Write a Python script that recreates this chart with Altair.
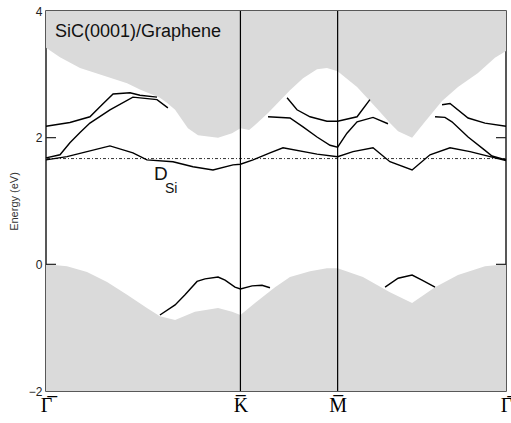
import altair as alt
import pandas as pd

# k-path positions of high-symmetry points (Gamma, K, M, Gamma)
sym_k = [0, 1, 1.5, 2.366]
sym_labels = ["\u0393\u0305", "K\u0305", "M\u0305", "\u0393\u0305"]

# projected bulk conduction band (lower edge of the upper gray region)
cb_k = [0.000, 0.072, 0.175, 0.314, 0.417, 0.483, 0.586, 0.622, 0.664, 0.730, 0.782, 0.885,
        0.957, 1.000, 1.045, 1.075, 1.142, 1.255, 1.322, 1.394, 1.445, 1.500, 1.600, 1.702,
        1.769, 1.811, 1.883, 1.949, 2.037, 2.119, 2.222, 2.309, 2.366]
cb_E = [3.42, 3.27, 3.10, 2.96, 2.86, 2.76, 2.63, 2.55, 2.44, 2.15, 2.04, 2.00,
        2.07, 2.15, 2.12, 2.20, 2.39, 2.75, 2.94, 3.08, 3.10, 3.05, 2.80, 2.46,
        2.23, 2.10, 2.00, 2.25, 2.58, 2.80, 3.02, 3.26, 3.37]

# projected bulk valence band (upper edge of the lower gray region)
vb_k = [0.000, 0.108, 0.211, 0.314, 0.417, 0.519, 0.586, 0.664, 0.766, 0.885, 0.957, 1.000,
        1.075, 1.178, 1.255, 1.358, 1.445, 1.500, 1.630, 1.769, 1.883, 2.001, 2.119, 2.258, 2.366]
vb_E = [0.00, -0.03, -0.12, -0.28, -0.48, -0.69, -0.82, -0.88, -0.75, -0.69, -0.75, -0.80,
        -0.61, -0.36, -0.20, -0.11, -0.06, -0.06, -0.20, -0.44, -0.61, -0.36, -0.17, -0.03, 0.00]

# surface / interface bands
bands = {
    "A": ([0.000, 0.123, 0.226, 0.288, 0.345, 0.432, 0.483, 0.571],
          [2.18, 2.24, 2.33, 2.52, 2.69, 2.71, 2.67, 2.64]),
    "B": ([0.000, 0.072, 0.123, 0.175, 0.226, 0.329, 0.447, 0.571, 0.627],
          [1.68, 1.73, 1.92, 2.08, 2.23, 2.44, 2.64, 2.60, 2.47]),
    "C": ([0.000, 0.108, 0.329, 0.447, 0.519, 0.653, 0.756, 0.859, 0.962, 1.000, 1.065,
           1.152, 1.219, 1.394, 1.500, 1.579, 1.682, 1.769, 1.883, 1.975, 2.078, 2.181, 2.284, 2.366],
          [1.65, 1.70, 1.87, 1.76, 1.65, 1.62, 1.54, 1.49, 1.57, 1.58, 1.65,
           1.76, 1.84, 1.74, 1.70, 1.78, 1.84, 1.62, 1.49, 1.73, 1.84, 1.78, 1.70, 1.64]),
    "D": ([1.142, 1.255, 1.322, 1.394, 1.461, 1.500, 1.548, 1.600, 1.682, 1.759],
          [2.33, 2.31, 2.17, 2.01, 1.88, 1.85, 2.07, 2.25, 2.32, 2.22]),
    "E": ([1.240, 1.291, 1.358, 1.445, 1.500, 1.600, 1.666],
          [2.63, 2.44, 2.33, 2.26, 2.26, 2.33, 2.60]),
    "F": ([2.001, 2.052, 2.088, 2.171, 2.258, 2.294, 2.366],
          [2.33, 2.32, 2.25, 2.01, 1.80, 1.71, 1.65]),
    "G": ([2.037, 2.078, 2.171, 2.258, 2.366],
          [2.52, 2.54, 2.31, 2.23, 2.18]),
    "H": ([0.586, 0.664, 0.715, 0.777, 0.818, 0.885, 0.921, 0.972, 1.000, 1.060, 1.111, 1.152],
          [-0.80, -0.64, -0.48, -0.27, -0.23, -0.20, -0.25, -0.36, -0.39, -0.34, -0.33, -0.37]),
    "I": ([1.744, 1.811, 1.883, 1.934, 2.001],
          [-0.36, -0.22, -0.17, -0.25, -0.36]),
}

fermi_E = [1.67]
ytick_vals = [-2, 0, 2, 4]
inner_ticks = [0, 2]

title_text = "SiC(0001)/Graphene"
label_D = "D"
label_Si = "Si"

# ---- tables ----
cb_df = pd.DataFrame({"k": cb_k, "E": cb_E})
vb_df = pd.DataFrame({"k": vb_k, "E": vb_E})
rows = []
for name, (ks, es) in bands.items():
    for i, (k, e) in enumerate(zip(ks, es)):
        rows.append({"band": name, "k": k, "E": e, "i": i})
band_df = pd.DataFrame(rows)
fermi_df = pd.DataFrame({"E": fermi_E})
sym_df = pd.DataFrame({"k": sym_k[1:3]})
tick_df = pd.DataFrame({"E": inner_ticks})

# label lookup by position along the path (thresholds halfway between points)
expr = f"'{sym_labels[-1]}'"
for i in range(len(sym_k) - 2, -1, -1):
    mid = (sym_k[i] + sym_k[i + 1]) / 2
    expr = f"datum.value < {mid} ? '{sym_labels[i]}' : ({expr})"

xscale = alt.Scale(domain=[sym_k[0], sym_k[-1]], nice=False, zero=False)
yscale = alt.Scale(domain=[-2, 4], nice=False, zero=False)

xaxis = alt.Axis(values=sym_k, labelExpr=expr, title=None,
                 grid=False, ticks=False, domain=False, labelFont="Liberation Serif",
                 labelFontSize=20, labelColor="black", labelPadding=4,
                 labelOverlap=False, labelBound=False, labelFlush=False)
yaxis = alt.Axis(values=ytick_vals, format="d", title="Energy (eV)", grid=False, ticks=False,
                 domain=False, labelFont="Liberation Sans", labelFontSize=12, labelColor="#222",
                 labelPadding=4, titleFont="Liberation Sans", titleFontSize=11,
                 titleFontWeight="normal", titleColor="#333", titlePadding=9)

X = alt.X("k:Q", scale=xscale, axis=xaxis)
Y = alt.Y("E:Q", scale=yscale, axis=yaxis)

upper = alt.Chart(cb_df).mark_area(color="#dadada", opacity=1).encode(
    x=X, y=Y, y2=alt.datum(4))
lower = alt.Chart(vb_df).mark_area(color="#dadada", opacity=1).encode(
    x="k:Q", y="E:Q", y2=alt.datum(-2))

lines = alt.Chart(band_df).mark_line(color="black", strokeWidth=1.4).encode(
    x="k:Q", y="E:Q", detail="band:N", order="i:Q")

fermi = alt.Chart(fermi_df).mark_rule(color="#333", strokeWidth=1,
                                      strokeDash=[3, 2, 1, 2]).encode(y="E:Q")
vlines = alt.Chart(sym_df).mark_rule(color="black", strokeWidth=1.2).encode(x="k:Q")

lticks = alt.Chart(tick_df).mark_rule(color="#222", strokeWidth=1.2).encode(
    y="E:Q", x=alt.value(0), x2=alt.value(10))
rticks = alt.Chart(tick_df).mark_rule(color="#222", strokeWidth=1.2).encode(
    y="E:Q", x=alt.value(450), x2=alt.value(460))

txt_df = pd.DataFrame({"k": [0.046], "E": [3.59], "t": [title_text]})
title_mark = alt.Chart(txt_df).mark_text(align="left", baseline="alphabetic",
                                         font="Liberation Sans", fontSize=18,
                                         color="#111").encode(x="k:Q", y="E:Q", text="t:N")
d_df = pd.DataFrame({"k": [0.555], "E": [1.33], "t": [label_D]})
d_mark = alt.Chart(d_df).mark_text(align="left", baseline="alphabetic",
                                   font="Liberation Sans", fontSize=19,
                                   color="#111").encode(x="k:Q", y="E:Q", text="t:N")
si_df = pd.DataFrame({"k": [0.612], "E": [1.13], "t": [label_Si]})
si_mark = alt.Chart(si_df).mark_text(align="left", baseline="alphabetic",
                                     font="Liberation Sans", fontSize=14,
                                     color="#111").encode(x="k:Q", y="E:Q", text="t:N")

chart = alt.layer(upper, lower, fermi, lines, vlines, lticks, rticks,
                  title_mark, d_mark, si_mark).properties(
    width=460, height=380,
    autosize=alt.AutoSizeParams(type="none"),
    padding={"left": 46, "top": 11, "right": 5, "bottom": 32},
    background="white",
).configure_view(stroke="#222", strokeWidth=1.5)

chart.save("out.html", embed_options={"renderer": "svg", "actions": False})
